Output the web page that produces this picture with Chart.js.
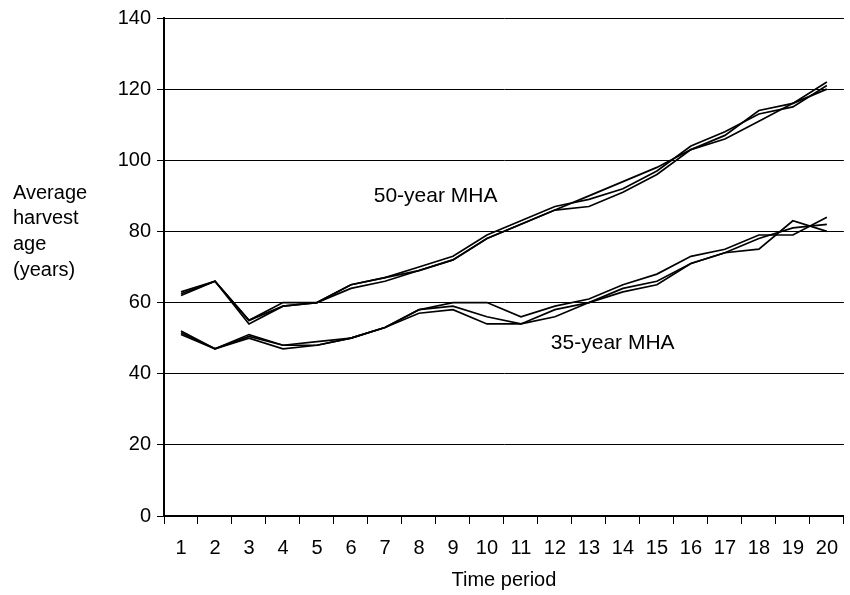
<!DOCTYPE html>
<html>
<head>
<meta charset="utf-8">
<script src="https://cdn.jsdelivr.net/npm/chart.js@4/dist/chart.umd.min.js"></script>
<style>
  body { margin: 0; background: #fff; }
  #wrap { width: 850px; height: 595px; position: relative; }
</style>
</head>
<body>
<div id="wrap"><canvas id="harvestChart"></canvas></div>
<script>
// Data
const periods = ['1','2','3','4','5','6','7','8','9','10','11','12','13','14','15','16','17','18','19','20'];
const yTicks = [0, 20, 40, 60, 80, 100, 120, 140];

// 50-year MHA runs
const mha50a = [62, 66, 54, 59, 60, 64, 66, 69, 72, 78, 82, 86, 87, 91, 96, 103, 106, 111, 116, 120];
const mha50b = [63, 66, 55, 60, 60, 65, 67, 70, 73, 79, 83, 87, 89, 92, 97, 104, 108, 113, 115, 121];
const mha50c = [62.5, 66, 55, 59, 60, 65, 67, 69, 72, 78, 82, 86, 90, 94, 98, 103, 107, 114, 116, 122];

// 35-year MHA runs
const mha35a = [51, 47, 50, 47, 48, 50, 53, 57, 58, 54, 54, 56, 60, 63, 65, 71, 74, 75, 83, 80];
const mha35b = [52, 47, 51, 48, 49, 50, 53, 58, 59, 56, 54, 58, 60, 64, 66, 71, 74, 78, 81, 82];
const mha35c = [51.5, 47, 50.5, 48, 48, 50, 53, 58, 60, 60, 56, 59, 61, 65, 68, 73, 75, 79, 79, 84];

// Text labels inside the plot (category index, value)
const groupLabels = [
    { text: '50-year MHA', x: 5.67, y: 89.8 },
    { text: '35-year MHA', x: 10.88, y: 48.5 }
];
const yTitleLines = ['Average', 'harvest', 'age', '(years)'];

const FONT = '"Liberation Sans", Arial, sans-serif';

function makeSet(data) {
    return {
        data: data,
        borderColor: '#000',
        borderWidth: 1.7,
        pointRadius: 0,
        tension: 0,
        fill: false
    };
}

// Draws group names and the stacked y-axis title
const textPlugin = {
    id: 'textPlugin',
    afterDraw(chart) {
        const ctx = chart.ctx;
        const xs = chart.scales.x;
        const ys = chart.scales.y;
        ctx.save();
        ctx.fillStyle = '#000';
        ctx.textBaseline = 'middle';
        ctx.textAlign = 'left';
        ctx.font = '21px ' + FONT;
        groupLabels.forEach(l => {
            ctx.fillText(l.text, xs.getPixelForValue(l.x), ys.getPixelForValue(l.y));
        });
        ctx.font = '20px ' + FONT;
        yTitleLines.forEach((line, i) => {
            ctx.fillText(line, 13, 193 + i * 25.7);
        });
        ctx.restore();
    }
};

const ctx = document.getElementById('harvestChart').getContext('2d');
new Chart(ctx, {
    type: 'line',
    data: {
        labels: periods,
        datasets: [mha50a, mha50b, mha50c, mha35a, mha35b, mha35c].map(makeSet)
    },
    plugins: [textPlugin],
    options: {
        responsive: true,
        maintainAspectRatio: false,
        animation: false,
        layout: { padding: { top: 17, right: 0, bottom: 0 } },
        plugins: {
            legend: { display: false },
            tooltip: { enabled: false }
        },
        scales: {
            x: {
                offset: true,
                afterFit(scale) { scale.height = 79; },
                grid: {
                    offset: true,
                    drawOnChartArea: false,
                    drawTicks: true,
                    tickLength: 8,
                    color: '#000',
                    lineWidth: 1
                },
                border: { color: '#000', width: 2 },
                ticks: {
                    color: '#000',
                    padding: 12,
                    maxRotation: 0,
                    autoSkip: false,
                    font: { family: FONT, size: 20 }
                },
                title: {
                    display: true,
                    text: 'Time period',
                    color: '#000',
                    padding: { top: 4, bottom: 3 },
                    font: { family: FONT, size: 20 }
                }
            },
            y: {
                min: 0,
                max: 140,
                afterFit(scale) { scale.width = 164; },
                afterBuildTicks(scale) { scale.ticks = yTicks.map(v => ({ value: v })); },
                grid: {
                    color: '#000',
                    lineWidth: 1,
                    drawTicks: true,
                    tickLength: 7
                },
                border: { color: '#000', width: 2 },
                ticks: {
                    color: '#000',
                    padding: 6,
                    font: { family: FONT, size: 20 }
                }
            }
        }
    }
});
</script>
</body>
</html>
